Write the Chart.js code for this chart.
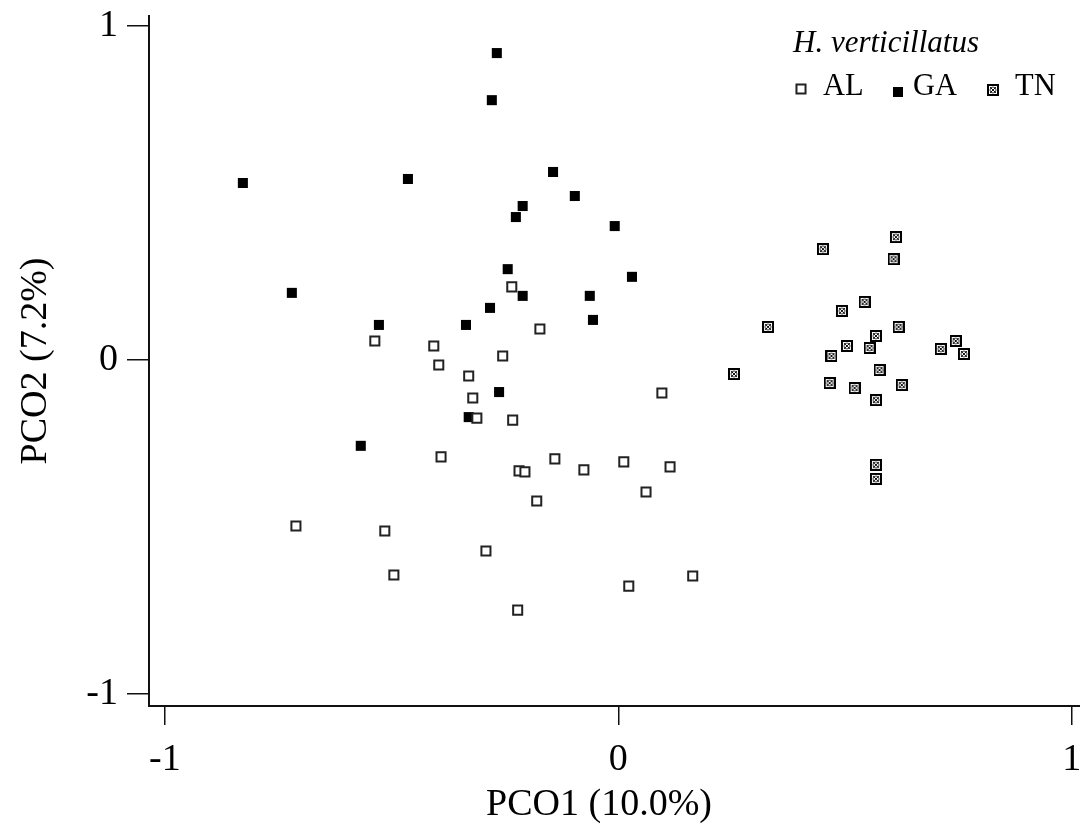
<!DOCTYPE html>
<html>
<head>
<meta charset="utf-8">
<script src="https://cdn.jsdelivr.net/npm/chart.js@4.4.1/dist/chart.umd.min.js"></script>
<style>
  html, body { margin: 0; padding: 0; background: #fff; overflow: hidden; }
  #c { display: block; }
</style>
</head>
<body>
<canvas id="c" width="1080" height="832"></canvas>
<script>
// ---- data ----
const seriesNames = ['AL', 'GA', 'TN'];
const legendTitle = 'H. verticillatus';
const xTitle = 'PCO1 (10.0%)';
const yTitle = 'PCO2 (7.2%)';
const xTicks = [-1, 0, 1];
const yTicks = [-1, 0, 1];
const xTickLabels = ['-1', '0', '1'];
const yTickLabels = ['-1', '0', '1'];
const xRange = [-1.035, 1.018];
const yRange = [-1.036, 1.030];

const alX = [-0.711, -0.515, -0.495, -0.292, -0.222, -0.180, 0.061, 0.164, 0.023, -0.537, -0.407, -0.396, -0.330, -0.321, -0.312, -0.391, -0.255, -0.235, -0.173, -0.233, 0.096, -0.140, -0.219, -0.206, -0.076, 0.012, 0.114];
const alY = [-0.497, -0.512, -0.644, -0.572, -0.749, -0.422, -0.395, -0.647, -0.677, 0.057, 0.042, -0.015, -0.048, -0.114, -0.174, -0.290, 0.012, 0.219, 0.093, -0.180, -0.099, -0.296, -0.332, -0.335, -0.329, -0.305, -0.320];

const gaX = [-0.828, -0.268, -0.279, -0.464, -0.144, -0.096, -0.211, -0.226, -0.008, -0.244, 0.030, -0.720, -0.283, -0.211, -0.063, -0.056, -0.336, -0.528, -0.263, -0.330, -0.568];
const gaY = [0.530, 0.919, 0.778, 0.542, 0.563, 0.491, 0.461, 0.428, 0.401, 0.272, 0.249, 0.201, 0.156, 0.192, 0.192, 0.120, 0.105, 0.105, -0.096, -0.171, -0.257];

const tnX = [0.451, 0.612, 0.607, 0.543, 0.493, 0.330, 0.618, 0.568, 0.504, 0.554, 0.470, 0.744, 0.711, 0.762, 0.255, 0.576, 0.466, 0.521, 0.625, 0.568, 0.568, 0.568];
const tnY = [0.332, 0.368, 0.302, 0.174, 0.147, 0.099, 0.099, 0.072, 0.042, 0.036, 0.012, 0.057, 0.033, 0.018, -0.042, -0.030, -0.069, -0.084, -0.075, -0.120, -0.314, -0.356];

// ---- marker for TN (boxed cross with circle) ----
function makeTnMarker(size) {
  const cv = document.createElement('canvas');
  cv.width = size; cv.height = size;
  const g = cv.getContext('2d');
  g.fillStyle = '#000';
  g.fillRect(0, 0, size, size);
  g.fillStyle = '#fff';
  g.fillRect(2, 2, size - 4, size - 4);
  g.strokeStyle = '#111';
  g.lineWidth = 1;
  g.beginPath();
  g.moveTo(3, 3); g.lineTo(size - 3, size - 3);
  g.moveTo(size - 3, 3); g.lineTo(3, size - 3);
  g.stroke();
  g.beginPath();
  g.arc(size / 2, size / 2, size / 2 - 3, 0, Math.PI * 2);
  g.strokeStyle = '#444';
  g.stroke();
  return cv;
}
const tnMarker = makeTnMarker(12);

const pts = (xs, ys) => xs.map((x, i) => ({ x: x, y: ys[i] }));

const FONT = "'Liberation Serif', 'Times New Roman', serif";
const AXIS_COLOR = '#111';

const overlayPlugin = {
  id: 'overlay',
  afterDraw(chart) {
    const ctx = chart.ctx;
    ctx.save();
    // x axis title
    ctx.fillStyle = '#000';
    ctx.font = '38px ' + FONT;
    ctx.textAlign = 'center';
    ctx.textBaseline = 'alphabetic';
    ctx.fillText(xTitle, 599, 815);
    // legend
    ctx.textAlign = 'left';
    ctx.font = 'italic 31px ' + FONT;
    ctx.fillText(legendTitle, 793, 52);
    ctx.font = '30.5px ' + FONT;
    const itemMarkerX = [801, 898, 993];
    const itemTextX = [823, 913, 1015];
    const itemMarkerY = [89, 92, 90];
    chart.data.datasets.forEach((ds, i) => {
      Chart.helpers.drawPoint(ctx, {
        pointStyle: ds.pointStyle,
        radius: ds.pointRadius,
        borderWidth: ds.borderWidth,
        rotation: 0
      }, itemMarkerX[i], itemMarkerY[i]);
      if (ds.pointStyle === 'rect') {
        ctx.fillStyle = ds.backgroundColor;
        ctx.strokeStyle = ds.borderColor;
        ctx.lineWidth = ds.borderWidth;
        ctx.fill();
        if (ds.borderWidth > 0) ctx.stroke();
      }
      ctx.fillStyle = '#000';
      ctx.fillText(ds.label, itemTextX[i], 95);
    });
    ctx.restore();
  }
};

new Chart(document.getElementById('c'), {
  type: 'scatter',
  data: {
    datasets: [
      { label: seriesNames[0], data: pts(alX, alY), pointStyle: 'rect', pointRadius: 6.4, borderWidth: 2, borderColor: '#222', backgroundColor: '#fff' },
      { label: seriesNames[1], data: pts(gaX, gaY), pointStyle: 'rect', pointRadius: 7.1, borderWidth: 0, borderColor: '#000', backgroundColor: '#000' },
      { label: seriesNames[2], data: pts(tnX, tnY), pointStyle: tnMarker, pointRadius: 6, borderWidth: 0, borderColor: '#000', backgroundColor: '#000' }
    ]
  },
  options: {
    responsive: false,
    devicePixelRatio: 1,
    animation: false,
    layout: { autoPadding: false, padding: { top: 16, right: 0, bottom: 0, left: 0 } },
    plugins: { legend: { display: false }, tooltip: { enabled: false } },
    elements: { point: { hoverRadius: 6 } },
    scales: {
      x: {
        type: 'linear',
        min: xRange[0], max: xRange[1],
        afterBuildTicks: (s) => { s.ticks = xTicks.map(v => ({ value: v })); },
        afterFit: (s) => { s.height = 126; s.paddingLeft = 0; s.paddingRight = 0; },
        ticks: {
          autoSkip: false, maxRotation: 0, padding: 12, color: '#000',
          font: { family: FONT, size: 38 },
          callback: (v) => { const i = xTicks.indexOf(v); return i >= 0 ? xTickLabels[i] : ''; }
        },
        grid: { drawOnChartArea: false, drawTicks: true, tickLength: 19, color: AXIS_COLOR, lineWidth: 1.5 },
        border: { display: true, color: AXIS_COLOR, width: 2 },
        title: { display: false }
      },
      y: {
        type: 'linear',
        min: yRange[0], max: yRange[1],
        afterBuildTicks: (s) => { s.ticks = yTicks.map(v => ({ value: v })); },
        afterFit: (s) => { s.width = 149; s.paddingTop = 0; s.paddingBottom = 0; },
        ticks: {
          autoSkip: false, padding: 9, color: '#000',
          font: { family: FONT, size: 38 },
          callback: (v) => { const i = yTicks.indexOf(v); return i >= 0 ? yTickLabels[i] : ''; }
        },
        grid: { drawOnChartArea: false, drawTicks: true, tickLength: 22, color: AXIS_COLOR, lineWidth: 1.5 },
        border: { display: true, color: AXIS_COLOR, width: 2 },
        title: { display: true, text: yTitle, color: '#000', font: { family: FONT, size: 38 }, padding: { top: 13, bottom: 0 } }
      }
    }
  },
  plugins: [overlayPlugin]
});
</script>
</body>
</html>
